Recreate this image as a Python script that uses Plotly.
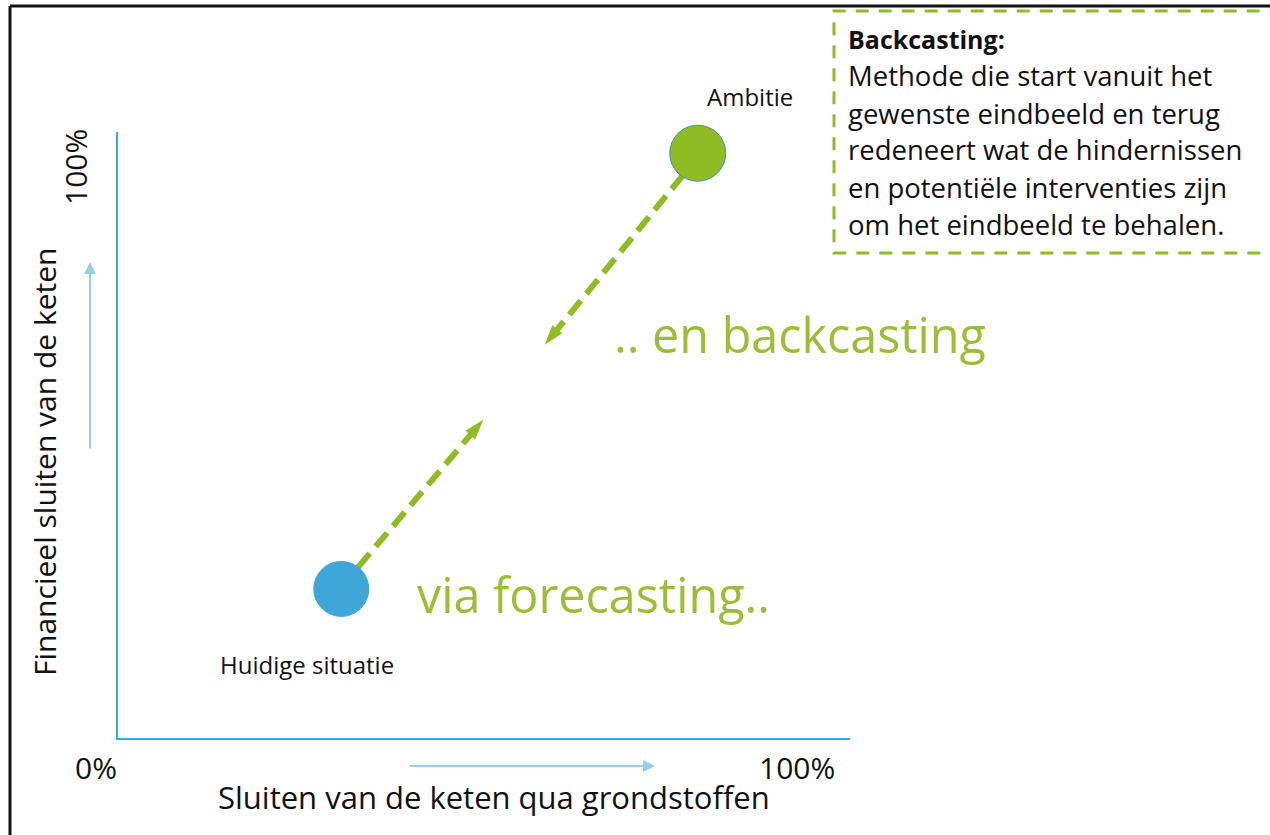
import plotly.graph_objects as go

W, H = 1270, 835

# --- data (percent along each axis) ---
point_labels = ["Huidige situatie", "Ambitie"]
point_x = [30.5, 79.2]
point_y = [24.6, 96.5]
point_colors = ["#3ea6d8", "#8fbc22"]

forecast_x = [32.8, 49.9]
forecast_y = [28.2, 52.5]
backcast_x = [77.2, 58.3]
backcast_y = [92.9, 64.9]

tick_labels = ["0%", "100%"]
x_title = "Sluiten van de keten qua grondstoffen"
y_title = "Financieel sluiten van de keten"
box_title = "Backcasting:"
box_lines = [
    "Methode die start vanuit het",
    "gewenste eindbeeld en terug",
    "redeneert wat de hindernissen",
    "en potentiële interventies zijn",
    "om het eindbeeld te behalen.",
]
forecast_text = "via forecasting.."
backcast_text = ".. en backcasting"

FONT = "Open Sans"
GREEN = "#8fbc22"
TEXTGREEN = "#9cbd36"
BLUE = "#3ea6d8"
LIGHTBLUE = "#96cfec"


def px(xp):
    return xp / W


def py(yp):
    return 1 - yp / H


fig = go.Figure()

# dashed arrows
for xs, ys in [(forecast_x, forecast_y), (backcast_x, backcast_y)]:
    fig.add_trace(go.Scatter(
        x=xs, y=ys, mode="lines+markers",
        line=dict(color=GREEN, width=6, dash="18px,9px"),
        marker=dict(symbol="arrow", size=[0, 21], color=GREEN, angleref="previous",
                    opacity=1, line=dict(width=0)),
        hoverinfo="skip", showlegend=False, cliponaxis=False,
    ))

# points
fig.add_trace(go.Scatter(
    x=point_x, y=point_y, mode="markers",
    marker=dict(size=[55, 56], color=point_colors, opacity=1,
                line=dict(color=["#3ea6d8", "#3e8fc0"], width=1)),
    hoverinfo="skip", showlegend=False, cliponaxis=False,
))

x0p, x1p = 118, 850
y0p, y1p = 738, 132

fig.update_layout(
    width=W, height=H,
    margin=dict(l=0, r=0, t=0, b=0),
    paper_bgcolor="white", plot_bgcolor="white",
    font=dict(family=FONT, color="#111111"),
    xaxis=dict(domain=[px(x0p), px(x1p)], range=[0, 100], showgrid=False, zeroline=False,
               showticklabels=False, ticks="", showline=True, linecolor=BLUE, linewidth=2,
               fixedrange=True),
    yaxis=dict(domain=[py(y0p), py(y1p)], range=[0, 100], showgrid=False, zeroline=False,
               showticklabels=False, ticks="", showline=True, linecolor=BLUE, linewidth=2,
               fixedrange=True),
)

ann = []
# point labels
ann.append(dict(x=point_x[0], y=point_y[0], xref="x", yref="y", text=point_labels[0],
                showarrow=False, xshift=-34, yshift=-76, font=dict(size=24, color="#111")))
ann.append(dict(x=point_x[1], y=point_y[1], xref="x", yref="y", text=point_labels[1],
                showarrow=False, xshift=52, yshift=57, font=dict(size=24, color="#111")))
# green big texts
ann.append(dict(x=px(415), y=py(594), xref="paper", yref="paper", text=forecast_text,
                showarrow=False, xanchor="left", yanchor="middle",
                font=dict(size=48.5, color=TEXTGREEN)))
ann.append(dict(x=px(612), y=py(334), xref="paper", yref="paper", text=backcast_text,
                showarrow=False, xanchor="left", yanchor="middle",
                font=dict(size=48.5, color=TEXTGREEN)))
# tick labels
ann.append(dict(x=px(119), y=py(767), xref="paper", yref="paper", text=tick_labels[0],
                showarrow=False, xanchor="right", yanchor="middle", font=dict(size=30)))
ann.append(dict(x=px(837), y=py(767), xref="paper", yref="paper", text=tick_labels[1],
                showarrow=False, xanchor="right", yanchor="middle", font=dict(size=30)))
ann.append(dict(x=px(76), y=py(167), xref="paper", yref="paper", text=tick_labels[1],
                showarrow=False, xanchor="center", yanchor="middle", textangle=-90,
                font=dict(size=30)))
# axis titles
ann.append(dict(x=px(494), y=py(797), xref="paper", yref="paper", text=x_title,
                showarrow=False, xanchor="center", yanchor="middle", font=dict(size=31)))
ann.append(dict(x=px(45), y=py(462), xref="paper", yref="paper", text=y_title,
                showarrow=False, xanchor="center", yanchor="middle", textangle=-90,
                font=dict(size=30)))
# light-blue direction arrows
ann.append(dict(x=px(655), y=py(766), xref="paper", yref="paper", ax=-247, ay=0,
                axref="pixel", ayref="pixel", text="", showarrow=True, arrowhead=2,
                arrowsize=1.2, arrowwidth=2, arrowcolor=LIGHTBLUE))
ann.append(dict(x=px(90), y=py(262), xref="paper", yref="paper", ax=0, ay=188,
                axref="pixel", ayref="pixel", text="", showarrow=True, arrowhead=2,
                arrowsize=1.2, arrowwidth=2, arrowcolor=LIGHTBLUE))
# box text
ann.append(dict(x=px(846), y=py(39), xref="paper", yref="paper", text="<b>" + box_title + "</b>",
                showarrow=False, xanchor="left", yanchor="middle", font=dict(size=25)))
for i, line in enumerate(box_lines):
    ann.append(dict(x=px(846), y=py(76 + 37 * i), xref="paper", yref="paper", text=line,
                    showarrow=False, xanchor="left", yanchor="middle", font=dict(size=27.5)))

fig.update_layout(annotations=ann)

shapes = [
    # black frame (top + left)
    dict(type="line", xref="paper", yref="paper", x0=px(10), x1=1.0, y0=py(6), y1=py(6),
         line=dict(color="#111111", width=3)),
    dict(type="line", xref="paper", yref="paper", x0=px(10), x1=px(10), y0=py(6), y1=0,
         line=dict(color="#111111", width=3)),
    # dashed green box
    dict(type="path", xref="paper", yref="paper",
         path=f"M 1.01,{py(11)} L {px(834)},{py(11)} L {px(834)},{py(253)} L 1.01,{py(253)}",
         line=dict(color=GREEN, width=3, dash="13px,10px")),
]
fig.update_layout(shapes=shapes)

fig.write_html("out.html", config={"displayModeBar": False},
               post_script="document.body.style.margin='0px';")
